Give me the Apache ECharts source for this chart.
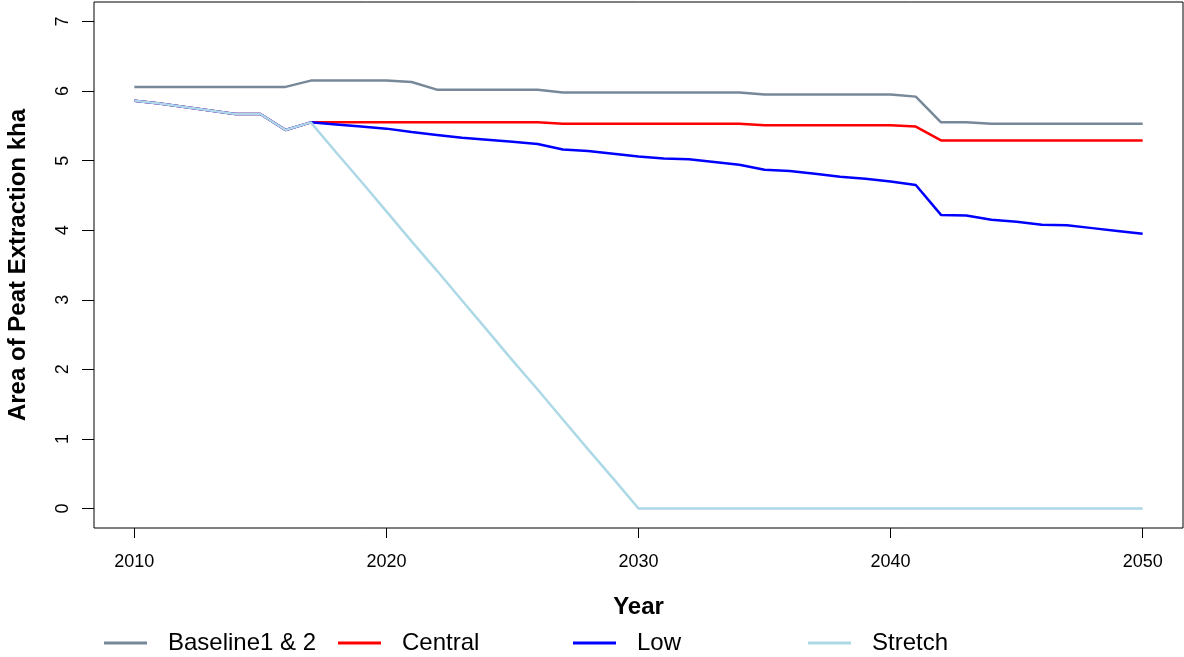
<!DOCTYPE html>
<html>
<head>
<meta charset="utf-8">
<script src="https://cdn.jsdelivr.net/npm/echarts@6/dist/echarts.min.js"></script>
<style>html,body{margin:0;padding:0;background:#fff;}#chart{width:1184px;height:657px;}</style>
</head>
<body>
<div id="chart"></div>
<script>
var years = [2010,2011,2012,2013,2014,2015,2016,2017,2018,2019,2020,2021,2022,2023,2024,2025,2026,2027,2028,2029,2030,2031,2032,2033,2034,2035,2036,2037,2038,2039,2040,2041,2042,2043,2044,2045,2046,2047,2048,2049,2050];
var baseline = [6.06,6.06,6.06,6.06,6.06,6.06,6.06,6.15,6.15,6.15,6.15,6.13,6.02,6.02,6.02,6.02,6.02,5.98,5.98,5.98,5.98,5.98,5.98,5.98,5.98,5.95,5.95,5.95,5.95,5.95,5.95,5.92,5.55,5.55,5.53,5.53,5.53,5.53,5.53,5.53,5.53];
var central = [5.86,5.82,5.77,5.72,5.67,5.67,5.44,5.55,5.55,5.55,5.55,5.55,5.55,5.55,5.55,5.55,5.55,5.53,5.53,5.53,5.53,5.53,5.53,5.53,5.53,5.51,5.51,5.51,5.51,5.51,5.51,5.49,5.29,5.29,5.29,5.29,5.29,5.29,5.29,5.29,5.29];
var low = [5.86,5.82,5.77,5.72,5.67,5.67,5.44,5.55,5.52,5.49,5.46,5.41,5.37,5.33,5.30,5.27,5.24,5.16,5.14,5.10,5.06,5.03,5.02,4.98,4.94,4.87,4.85,4.81,4.77,4.74,4.70,4.65,4.22,4.21,4.15,4.12,4.08,4.07,4.03,3.99,3.95];
var stretch = [5.86,5.82,5.77,5.72,5.67,5.67,5.44,5.55,5.12,4.70,4.27,3.84,3.42,2.99,2.56,2.13,1.71,1.28,0.85,0.43,0,0,0,0,0,0,0,0,0,0,0,0,0,0,0,0,0,0,0,0,0];
var xTicks = [2010,2020,2030,2040,2050];
var yTicks = [0,1,2,3,4,5,6,7];
var seriesNames = ['Baseline1 & 2','Central','Low','Stretch'];
var seriesColors = ['#778899','#FF0000','#0000FF','#ADD8E6'];
var seriesValues = [baseline, central, low, stretch];

function pairs(vals){ return years.map(function(y,i){ return [y, vals[i]]; }); }

var font = 'Liberation Sans, Arial, sans-serif';
var legendLefts = [104, 338, 573, 808];

var chart = echarts.init(document.getElementById('chart'), null, {renderer:'canvas'});
chart.setOption({
  animation: false,
  backgroundColor: '#fff',
  grid: {left:94, right:1, top:2, bottom:129, show:true, borderColor:'#000', borderWidth:1, backgroundColor:'transparent',
    containLabel:false, outerBoundsMode:'none'},
  legend: seriesNames.map(function(n,i){
    return {data:[n], left:legendLefts[i], top:631, padding:0, icon:'rect', itemWidth:43, itemHeight:3,
      selectedMode:false,
      textStyle:{fontFamily:font, fontSize:24, color:'#000', padding:[0,0,0,16]}};
  }),
  xAxis: {
    type:'value', min:2008.4, max:2051.6,
    axisLine:{show:false, onZero:false},
    splitLine:{show:false},
    axisTick:{show:true, customValues:xTicks, length:10, inside:false, lineStyle:{color:'#000', width:1}},
    axisLabel:{customValues:xTicks, fontFamily:font, fontSize:18, color:'#000', margin:25,
      formatter:function(v){return String(v);}},
    name:'Year', nameLocation:'middle', nameGap:67,
    nameTextStyle:{fontFamily:font, fontSize:24, fontWeight:'bold', color:'#000'}
  },
  yAxis: {
    type:'value', min:-0.28, max:7.28,
    axisLine:{show:false, onZero:false},
    splitLine:{show:false},
    axisTick:{show:true, customValues:yTicks, length:12, lineStyle:{color:'#000', width:1}},
    axisLabel:{customValues:yTicks, fontFamily:font, fontSize:18, color:'#000', margin:22, rotate:90,
      formatter:function(v){return String(v);}},
    name:'Area of Peat Extraction kha', nameLocation:'middle', nameGap:64, nameRotate:90,
    nameTextStyle:{fontFamily:font, fontSize:24, fontWeight:'bold', color:'#000'}
  },
  series: seriesNames.map(function(n,i){
    return {name:n, type:'line', data:pairs(seriesValues[i]), showSymbol:false, symbol:'none',
      color:seriesColors[i], lineStyle:{color:seriesColors[i], width:2.5}, z:2+i};
  })
});
</script>
</body>
</html>
